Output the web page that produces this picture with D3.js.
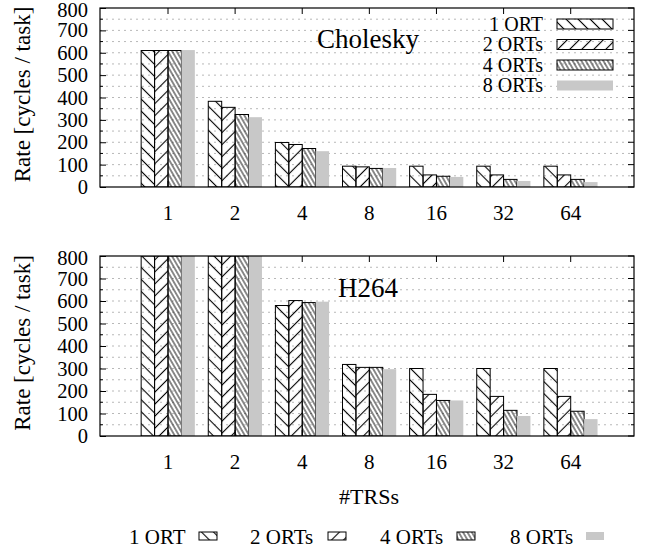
<!DOCTYPE html>
<html><head><meta charset="utf-8">
<script src="https://cdn.jsdelivr.net/npm/d3@7"></script>
<style>
body{margin:0;background:#fff;}
svg text{font-family:"Liberation Serif","Times New Roman",serif !important;fill:#000;}
</style></head>
<body><svg id="c" width="645" height="548" font-family="Liberation Serif"></svg>
<script>
const categories = ["1","2","4","8","16","32","64"];
const seriesNames = ["1 ORT","2 ORTs","4 ORTs","8 ORTs"];
const yTicks = [0,100,200,300,400,500,600,700,800];

const cholesky1 = [610, 383, 199, 93, 93, 93, 93];
const cholesky2 = [610, 356, 190, 90, 54, 54, 54];
const cholesky4 = [610, 324, 172, 83, 48, 34, 34];
const cholesky8 = [612, 312, 160, 85, 45, 27, 22];

const h264_1 = [800, 800, 580, 318, 300, 300, 300];
const h264_2 = [800, 800, 602, 305, 185, 176, 176];
const h264_4 = [800, 800, 593, 305, 158, 114, 110];
const h264_8 = [800, 800, 597, 297, 158, 89, 75];

const panels = [
  {title:"Cholesky", series:[cholesky1,cholesky2,cholesky4,cholesky8], top:8, bottom:187, tx:317, ty:48},
  {title:"H264", series:[h264_1,h264_2,h264_4,h264_8], top:256, bottom:436, tx:338, ty:297}
];

const FONT = "Liberation Serif";
const svg = d3.select("#c");
const defs = svg.append("defs");
function hatch(id, angle, spacing, sw){
  const p = defs.append("pattern").attr("id",id).attr("patternUnits","userSpaceOnUse")
    .attr("width",spacing).attr("height",spacing)
    .attr("patternTransform",`rotate(${angle})`);
  p.append("line").attr("x1",spacing/2).attr("x2",spacing/2).attr("y1",-1).attr("y2",spacing+1)
    .attr("stroke","#000").attr("stroke-width",sw);
}
hatch("p1",-45,8.5,1.1);
hatch("p2",45,8.5,1.1);
hatch("p4",-30,3.8,0.9);
const fills = ["url(#p1)","url(#p2)","url(#p4)","#c8c8c8"];
const strokes = ["#000","#000","#000","none"];

const L = 100, R = 634;
const x = d3.scaleLinear().domain([0,6]).range([168,570.7]);
const step = x(1)-x(0);
const bw = step*0.2;

function txt(sel){ return sel.attr("font-family",FONT).style("font-family",FONT); }

panels.forEach((pn,pi)=>{
  const y = d3.scaleLinear().domain([0,800]).range([pn.bottom,pn.top]);
  const g = svg.append("g");
  const clipId = "clip"+pi;
  defs.append("clipPath").attr("id",clipId).append("rect")
    .attr("x",L).attr("y",pn.top).attr("width",R-L).attr("height",pn.bottom-pn.top);
  const gridVals = d3.range(50,800,50);
  g.selectAll(".grid").data(gridVals).enter().append("line")
    .attr("x1",L).attr("x2",R).attr("y1",d=>y(d)).attr("y2",d=>y(d))
    .attr("stroke","#b8b8b8").attr("stroke-width",1).attr("stroke-dasharray","2,4");
  const bars = g.append("g").attr("clip-path",`url(#${clipId})`);
  pn.series.forEach((vals,si)=>{
    bars.selectAll(".b"+si).data(vals).enter().append("rect")
      .attr("x",(d,i)=>x(i)-2*bw+si*bw)
      .attr("width",bw)
      .attr("y",d=>y(d))
      .attr("height",d=>pn.bottom-y(d))
      .attr("fill",fills[si])
      .attr("stroke",strokes[si]).attr("stroke-width",1);
  });
  const major = yTicks;
  const minor = d3.range(50,800,100);
  const left = g.append("g").attr("transform",`translate(${L},0)`)
    .call(d3.axisLeft(y).tickValues(major).tickSizeInner(-6).tickSizeOuter(0).tickPadding(12));
  left.attr("font-family",FONT).attr("font-size",20);
  left.select(".domain").remove();
  txt(left.selectAll("text")).style("font-size","20.5px");
  left.selectAll(".tick").filter(d=>d===800).select("text").attr("dy","0.42em");
  left.selectAll("line").attr("stroke","#000");
  g.selectAll(".mn").data(minor).enter().append("line")
    .attr("x1",L).attr("x2",L+3).attr("y1",d=>y(d)).attr("y2",d=>y(d)).attr("stroke","#000");
  g.selectAll(".rmj").data(major).enter().append("line")
    .attr("x1",R).attr("x2",R-6).attr("y1",d=>y(d)).attr("y2",d=>y(d)).attr("stroke","#000");
  g.selectAll(".rmn").data(minor).enter().append("line")
    .attr("x1",R).attr("x2",R-3).attr("y1",d=>y(d)).attr("y2",d=>y(d)).attr("stroke","#000");
  g.selectAll(".tt").data(categories).enter().append("line")
    .attr("x1",(d,i)=>x(i)).attr("x2",(d,i)=>x(i)).attr("y1",pn.top).attr("y2",pn.top+6).attr("stroke","#000");
  g.selectAll(".bt").data(categories).enter().append("line")
    .attr("x1",(d,i)=>x(i)).attr("x2",(d,i)=>x(i)).attr("y1",pn.bottom).attr("y2",pn.bottom-6).attr("stroke","#000");
  txt(g.selectAll(".xl").data(categories).enter().append("text")
    .attr("x",(d,i)=>x(i)).attr("y",pn.bottom+33).attr("text-anchor","middle")
    .style("font-size","21px").text(d=>d));
  g.append("rect").attr("x",L).attr("y",pn.top).attr("width",R-L).attr("height",pn.bottom-pn.top)
    .attr("fill","none").attr("stroke","#000").attr("stroke-width",1.2);
  txt(g.append("text").attr("transform",`translate(30,${(pn.top+pn.bottom)/2 - 3}) rotate(-90)`)
    .attr("text-anchor","middle").style("font-size","23px").text("Rate [cycles / task]"));
  txt(g.append("text").attr("x",pn.tx).attr("y",pn.ty).style("font-size","27px").text(pn.title));
});

const lg = svg.append("g");
seriesNames.forEach((s,i)=>{
  const cy = 24 + i*20.5;
  txt(lg.append("text").attr("x",543).attr("y",cy+6.5).attr("text-anchor","end").style("font-size","20px").text(s));
  lg.append("rect").attr("x",557).attr("y",cy-5).attr("width",56).attr("height",10)
    .attr("fill",fills[i]).attr("stroke",strokes[i]).attr("stroke-width",1);
});

txt(svg.append("text").attr("x",369).attr("y",504).attr("text-anchor","middle").style("font-size","22px").text("#TRSs"));

const bx = [[129,199],[250,328],[380,457],[510,586]];
seriesNames.forEach((s,i)=>{
  txt(svg.append("text").attr("x",bx[i][0]).attr("y",544).style("font-size","21px").text(s));
  svg.append("rect").attr("x",bx[i][1]).attr("y",532).attr("width",18).attr("height",8)
    .attr("fill",fills[i]).attr("stroke",strokes[i]).attr("stroke-width",1);
});
</script></body></html>
